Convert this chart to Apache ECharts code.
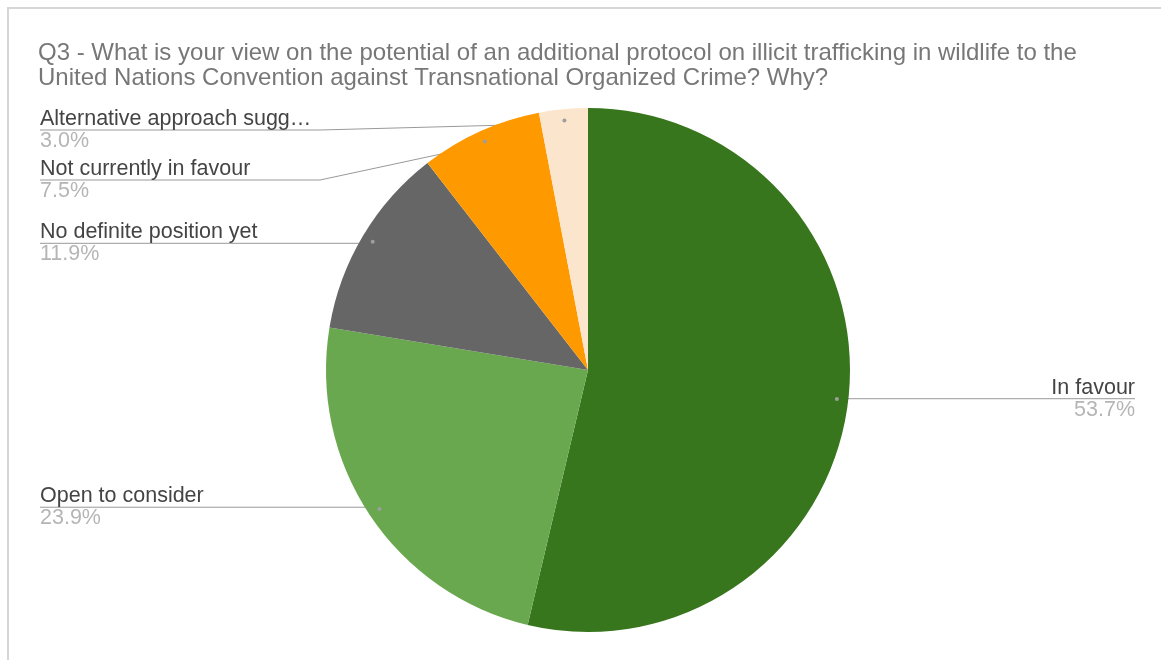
<!DOCTYPE html>
<html>
<head>
<meta charset="utf-8">
<script src="https://cdn.jsdelivr.net/npm/echarts@6/dist/echarts.min.js"></script>
<style>
  html, body { margin: 0; padding: 0; background: #fff; }
  #frame {
    position: absolute; left: 7px; top: 7px; right: 0; bottom: 0;
    border-top: 2px solid #d6d6d6; border-left: 2px solid #d6d6d6;
  }
  #main { position: absolute; left: 0; top: 0; width: 1161px; height: 660px; }
</style>
</head>
<body>
<div id="frame"></div>
<div id="main"></div>
<script>
// data
const categories = [
  "In favour",
  "Open to consider",
  "No definite position yet",
  "Not currently in favour",
  "Alternative approach sugg…"
];
const values = [53.7, 23.9, 11.9, 7.5, 3.0];
const colors = ["#38761d", "#6aa84f", "#666666", "#ff9900", "#fce5cd"];

const titleText = "Q3 - What is your view on the potential of an additional protocol on illicit trafficking in wildlife to the\nUnited Nations Convention against Transnational Organized Crime? Why?";

// pie geometry (px)
const cx = 588, cy = 370, R = 262;
const anchorRatio = 0.945;
const leftEdge = 40, rightEdge = 1135;
const font = "Liberation Sans, Arial, sans-serif";

// anchor point inside each slice + label row y (avoid overlap)
function computeLabelSpots () {
  const total = values.reduce((a, b) => a + b, 0);
  let acc = 0;
  const spots = values.map((v, i) => {
    const mid = (acc + v / 2) / total * Math.PI * 2;
    acc += v;
    const dx = Math.sin(mid), dy = -Math.cos(mid);
    return {
      i: i,
      left: dx < 0,
      ax: cx + dx * R * anchorRatio,
      ay: cy + dy * R * anchorRatio
    };
  });
  [true, false].forEach(side => {
    let prev = -Infinity;
    spots.filter(s => s.left === side)
      .sort((a, b) => a.ay - b.ay)
      .forEach(s => {
        s.ly = Math.max(s.ay, prev + 50, 130);
        prev = s.ly;
      });
  });
  return spots;
}
const spots = computeLabelSpots();

const pieData = categories.map((name, i) => ({
  name: name,
  value: values[i],
  itemStyle: { color: colors[i] }
}));

const chart = echarts.init(document.getElementById("main"));
chart.setOption({
  animation: false,
  title: {
    text: titleText,
    left: 33,
    top: 36,
    textStyle: {
      fontFamily: font,
      fontWeight: "normal",
      fontSize: 24,
      lineHeight: 25,
      color: "#777777"
    }
  },
  series: [
    {
      type: "pie",
      center: [cx, cy],
      radius: R,
      startAngle: 90,
      clockwise: true,
      avoidLabelOverlap: false,
      data: pieData,
      emphasis: { disabled: true },
      label: {
        show: true,
        position: "outside",
        formatter: p => "{n|" + p.name + "}\n{v|" + p.value.toFixed(1) + "%}",
        rich: {
          n: { fontFamily: font, fontSize: 21.5, lineHeight: 22, color: "#444444" },
          v: { fontFamily: font, fontSize: 21.5, lineHeight: 22, color: "#b5b5b5" }
        }
      },
      labelLine: {
        show: true,
        length: 10,
        length2: 10,
        lineStyle: { color: "#999999", width: 1 }
      },
      labelLayout: function (params) {
        const s = spots[params.dataIndex];
        const edge = s.left ? leftEdge : rightEdge;
        const bendX = s.left ? cx - R - 6 : cx + R + 6;
        return {
          x: edge,
          y: s.ly,
          align: s.left ? "left" : "right",
          verticalAlign: "middle",
          labelLinePoints: [[s.ax, s.ay], [bendX, s.ly], [edge, s.ly]]
        };
      }
    },
    {
      // small dots where the label lines start
      type: "pie",
      silent: true,
      center: [cx, cy],
      radius: [R * anchorRatio - 10, R * anchorRatio + 10],
      startAngle: 90,
      clockwise: true,
      avoidLabelOverlap: false,
      data: categories.map((name, i) => ({
        name: name,
        value: values[i],
        itemStyle: { color: "rgba(0,0,0,0)" }
      })),
      label: {
        show: true,
        position: "inside",
        formatter: "{d| }",
        rich: {
          d: { width: 4, height: 4, borderRadius: 2, backgroundColor: "#9e9e9e", fontSize: 1 }
        }
      },
      labelLine: { show: false }
    }
  ]
});
</script>
</body>
</html>
